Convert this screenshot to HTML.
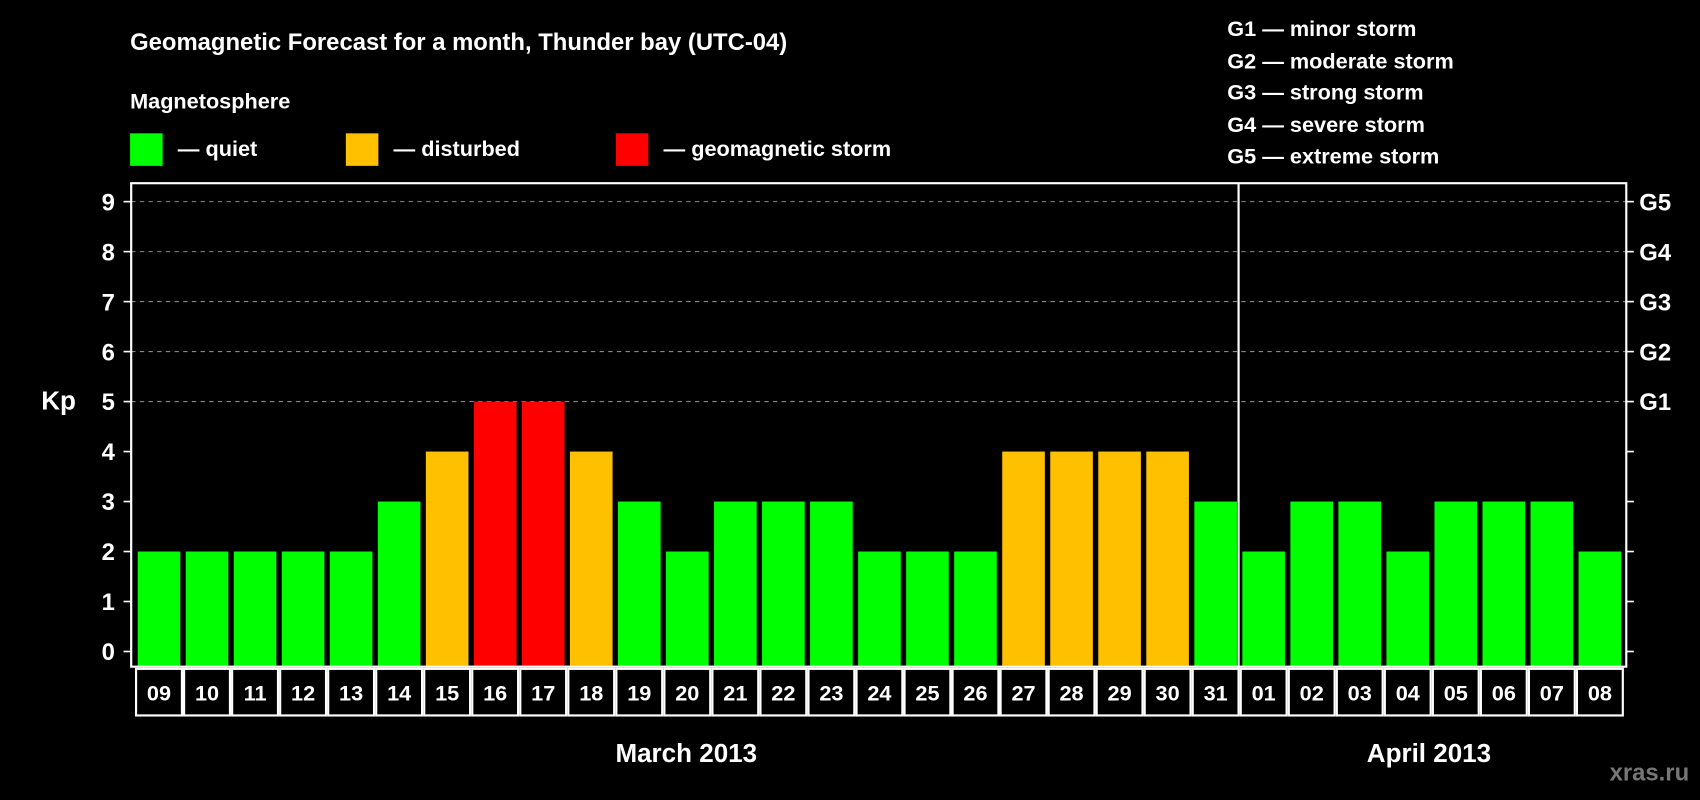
<!DOCTYPE html>
<html><head><meta charset="utf-8"><style>
html,body{margin:0;padding:0;background:#000;width:1700px;height:800px;overflow:hidden}
svg{display:block}
text{font-family:"Liberation Sans",sans-serif;font-weight:bold;fill:#fff}
</style></head><body>
<svg id="chart" width="1700" height="800" viewBox="0 0 1568 738" preserveAspectRatio="none" xmlns="http://www.w3.org/2000/svg">
<rect width="1568" height="738" fill="#000"/>
<text x="120" y="46" font-size="22">Geomagnetic Forecast for a month, Thunder bay (UTC-04)</text>
<text x="120" y="100" font-size="20">Magnetosphere</text>
<g><rect x="120" y="123" width="30" height="30" fill="#00ff00"/><text x="164" y="144" font-size="20">— quiet</text></g>
<g><rect x="319" y="123" width="30" height="30" fill="#ffc000"/><text x="363" y="144" font-size="20">— disturbed</text></g>
<g><rect x="568" y="123" width="30" height="30" fill="#ff0000"/><text x="612" y="144" font-size="20">— geomagnetic storm</text></g>
<g font-size="20">
<text x="1132" y="33">G1 — minor storm</text>
<text x="1132" y="63">G2 — moderate storm</text>
<text x="1132" y="92">G3 — strong storm</text>
<text x="1132" y="122">G4 — severe storm</text>
<text x="1132" y="151">G5 — extreme storm</text>
</g>
<text x="38" y="378" font-size="24">Kp</text>
<g id="grid"></g><g id="bars"></g><g id="axes"></g>
<text x="633" y="703" font-size="24" text-anchor="middle">March 2013</text>
<text x="1318" y="703" font-size="24" text-anchor="middle">April 2013</text>
<text x="1558" y="720" font-size="22" text-anchor="end" style="fill:#777">xras.ru</text>
</svg>
<script>
const days = ["09","10","11","12","13","14","15","16","17","18","19","20","21","22","23","24","25","26","27","28","29","30","31","01","02","03","04","05","06","07","08"];
const kpValues = [2,2,2,2,2,3,4,5,5,4,3,2,3,3,3,2,2,2,4,4,4,4,3,2,3,3,2,3,3,3,2];
const yTicks = [0,1,2,3,4,5,6,7,8,9];
const gLabels = ["G1","G2","G3","G4","G5"];
const monthBreakIndex = 23;

const NS = "http://www.w3.org/2000/svg";
const X0 = 124.5, STEP = 44.3, Y0 = 601, UNIT = 46.11;
const L = 121, R = 1500, T = 169, B = 615, LB = 660;
const x = i => X0 + i * STEP;
const y = v => Y0 - v * UNIT;
function mk(tag, attrs, parent){const e=document.createElementNS(NS,tag);for(const k in attrs)e.setAttribute(k,attrs[k]);parent.appendChild(e);return e;}
const grid=document.getElementById('grid'), bars=document.getElementById('bars'), axes=document.getElementById('axes');

yTicks.forEach(v=>{
  if(v>=5){const g=mk('line',{x1:L,x2:R,y1:y(v),y2:y(v),stroke:'#888','stroke-width':1,'stroke-dasharray':'4,4'},grid);
    
    }
  const t1=mk('line',{x1:L-7,x2:L,y1:y(v),y2:y(v),stroke:'#fff','stroke-width':1.5},axes);
  
  
  const t2=mk('line',{x1:R,x2:R+7,y1:y(v),y2:y(v),stroke:'#fff','stroke-width':1.5},axes);
  
  
  const lb=mk('text',{x:106,y:y(v)+8,'font-size':22,'text-anchor':'end'},axes);
  lb.textContent=v;
  
  
  if(v>=5){const gl=mk('text',{x:1512,y:y(v)+8,'font-size':22},axes);
    gl.textContent=gLabels[v-5];
    
    }
});

kpValues.forEach((v,i)=>{
  const c = v>=5?'#ff0000':(v>=4?'#ffc000':'#00ff00');
  const r=mk('rect',{x:x(i)+2.5,y:y(v),width:STEP-5,height:Y0-y(v)+13,fill:c},bars);
  
  
  const box=mk('rect',{x:x(i)+1,y:B+2,width:STEP-2,height:LB-B-2,fill:'none',stroke:'#fff','stroke-width':2},axes);
  
  
  const t=mk('text',{x:x(i)+STEP/2,y:646,'font-size':20,'text-anchor':'middle'},axes);
  t.textContent=days[i];
  
  
});

const frame=mk('rect',{x:L,y:T,width:R-L,height:B-T,fill:'none',stroke:'#fff','stroke-width':2},axes);


const div=mk('line',{x1:x(monthBreakIndex)-1,x2:x(monthBreakIndex)-1,y1:T,y2:LB,stroke:'#fff','stroke-width':2},axes);


</script>
</body></html>
